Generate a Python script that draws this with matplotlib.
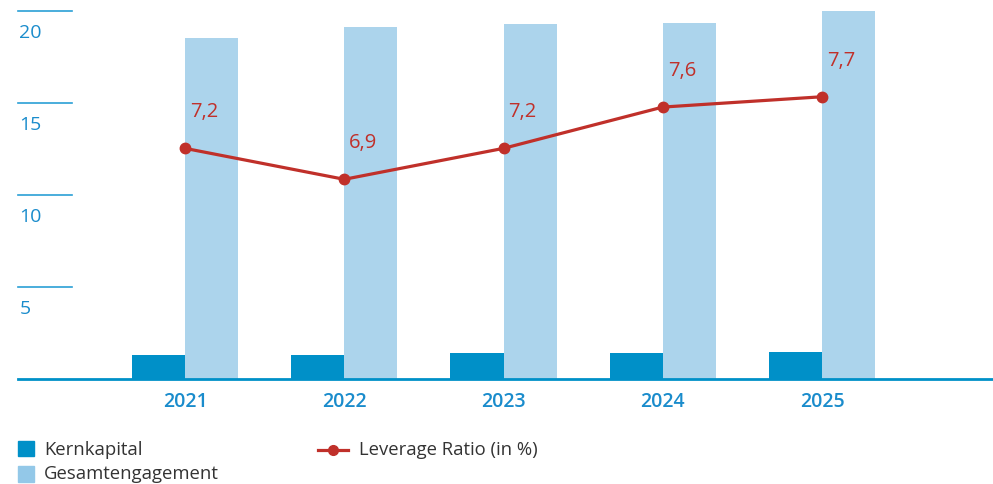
import matplotlib
matplotlib.use("Agg")
import matplotlib.pyplot as plt
from matplotlib.patches import Rectangle
from matplotlib.lines import Line2D

plt.rcParams['font.family'] = ['Open Sans', 'DejaVu Sans']

years = ['2021', '2022', '2023', '2024', '2025']
kernkapital = [1.32, 1.32, 1.41, 1.41, 1.47]
gesamtengagement = [18.55, 19.13, 19.29, 19.35, 19.98]
leverage = [7.2, 6.9, 7.2, 7.6, 7.7]
yticks = [5, 10, 15, 20]

dark = '#0090c8'
light = '#acd4ec'
red = '#c0302a'
tickblue = '#1a8ccc'
textgrey = '#333333'

fig = plt.figure(figsize=(9.93, 4.85), dpi=100)
ax = fig.add_axes([18 / 993, 105 / 485, 975 / 993, 368 / 485])

x = list(range(len(years)))
w = 0.333
ax.bar(x, kernkapital, width=-w, align='edge', color=dark, zorder=3)
ax.bar(x, gesamtengagement, width=w, align='edge', color=light, zorder=2)
ax.axhline(0, color=dark, lw=2.0, zorder=2.5, clip_on=False)

ax.set_xlim(-1.049, 5.074)
ax.set_ylim(0, 20)
for s in ax.spines.values():
    s.set_visible(False)
ax.set_yticks([])
ax.set_xticks(x, years)
ax.tick_params(axis='x', length=0, pad=9, labelsize=14, labelcolor=tickblue)
for lab in ax.get_xticklabels():
    lab.set_fontweight('semibold')

# short stubs with value labels on the left
for v in yticks:
    ax.plot([0, 54 / 975], [v, v], color='#2a9fd6', lw=1.2,
            transform=ax.get_yaxis_transform(), clip_on=False)
    ax.annotate(str(v), xy=(0, v), xycoords=ax.get_yaxis_transform(),
                xytext=(1, -15), textcoords='offset points',
                ha='left', va='center', fontsize=14, color=tickblue)

# leverage ratio on its own hidden scale
ax2 = ax.twinx()
ax2.set_ylim(4.965, 8.531)
ax2.axis('off')
ax2.plot(x, leverage, color=red, lw=2.3, marker='o', ms=7.5, zorder=5)
for i, v in enumerate(leverage):
    ax2.annotate(f"{v:.1f}".replace('.', ','), xy=(i, v),
                 xytext=(3.6, 26.6), textcoords='offset points',
                 ha='left', va='center', fontsize=14.5, color=red)

# legend in pixel coordinates
lg = fig.add_axes([0, 0, 1, 1], zorder=-1)
lg.set_xlim(0, 993)
lg.set_ylim(485, 0)
lg.axis('off')
lg.add_patch(Rectangle((18, 442), 16, 15, color=dark))
lg.add_patch(Rectangle((18, 467), 16, 16, color='#93c8e8'))
lg.text(44, 450, 'Kernkapital', fontsize=13.3, color=textgrey, va='center')
lg.text(44, 474.5, 'Gesamtengagement', fontsize=13.3, color=textgrey, va='center')
lg.add_line(Line2D([318, 348], [451, 451], color=red, lw=2.3))
lg.plot([333], [451], 'o', color=red, ms=7)
lg.text(359, 450, 'Leverage Ratio (in %)', fontsize=13.3, color=textgrey, va='center')

fig.savefig('out.png', dpi=100)
